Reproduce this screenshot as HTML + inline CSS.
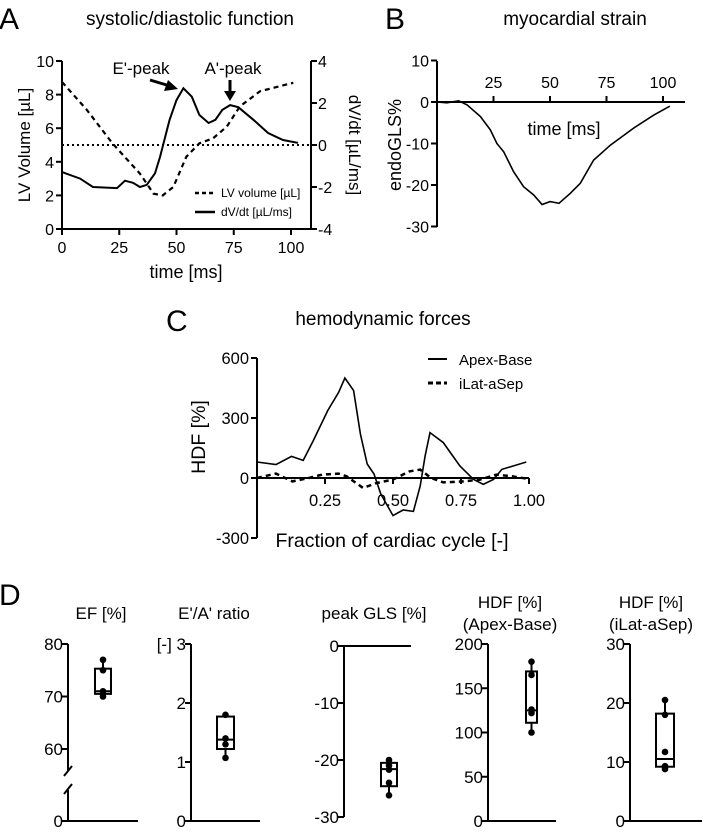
<!DOCTYPE html>
<html><head><meta charset="utf-8"><style>
html,body{margin:0;padding:0;background:#fff;}
svg{display:block;font-family:"Liberation Sans",Arial,sans-serif;}
</style></head><body>
<svg id="fig" width="702" height="838" viewBox="0 0 702 838" xmlns="http://www.w3.org/2000/svg">
<g>
<text x="-1" y="29" font-size="30">A</text>
<text x="190" y="25" font-size="19" text-anchor="middle">systolic/diastolic function</text>
<text x="186" y="278" font-size="18" text-anchor="middle">time [ms]</text>
<text transform="translate(30,145) rotate(-90)" font-size="17" text-anchor="middle">LV Volume  [µL]</text>
<text transform="translate(349,145) rotate(90)" font-size="17" text-anchor="middle">dV/dt [µL/ms]</text>
<text x="141" y="74" font-size="17" text-anchor="middle">E'-peak</text>
<text x="233" y="74" font-size="17" text-anchor="middle">A'-peak</text>
<g id="gA"></g>
</g>
<g>
<text x="385" y="29" font-size="30">B</text>
<text x="575" y="25" font-size="19" text-anchor="middle">myocardial strain</text>
<text x="564" y="135" font-size="18" text-anchor="middle">time [ms]</text>
<text transform="translate(401,145) rotate(-90)" font-size="18" text-anchor="middle">endoGLS%</text>
<g id="gB"></g>
</g>
<g>
<text x="166" y="331" font-size="30">C</text>
<text x="383" y="325" font-size="19" text-anchor="middle">hemodynamic forces</text>
<text x="392" y="547" font-size="19.5" text-anchor="middle">Fraction of cardiac cycle [-]</text>
<text transform="translate(205,437) rotate(-90)" font-size="19.5" text-anchor="middle">HDF [%]</text>
<g id="gC"></g>
</g>
<g>
<text x="-1" y="605" font-size="30">D</text>
<g id="gD"></g>
</g>
</svg>
<script>
// Panel A data
const aVolT=[0,10.8,22,34,40,44,48.6,54.3,60,66,72,77.7,86.5,101];
const aVolV=[8.75,7.1,5.1,3.3,2.1,2.0,2.5,4.3,5.1,5.4,6.1,7.3,8.2,8.7];
const aDvT=[0,7.9,13.5,24,27.5,31,34,37,40.6,42.8,47,50,53,56.7,60,64,67,70,73.4,77,83.6,90,96.5,103];
const aDvV=[-1.29,-1.6,-2.0,-2.05,-1.7,-1.8,-2.0,-1.9,-1.35,-0.57,1.2,2.14,2.7,2.3,1.43,1.05,1.2,1.67,1.9,1.8,1.2,0.57,0.24,0.1];
const aXTicks=[0,25,50,75,100];
const aLTicks=[0,2,4,6,8,10];
const aRTicks=[-4,-2,0,2,4];
// Panel B data
const bT=[0,4.4,9.6,13.3,19.2,23.6,26.5,29.5,33.9,38.3,42.8,46.5,50,54,59,63.4,69.3,76.7,87,96,103];
const bV=[0,-0.2,0.3,-0.7,-3.5,-6.7,-10,-12,-16.8,-20.4,-22.4,-24.7,-24,-24.4,-22,-19.6,-14,-10.4,-6.3,-3.1,-1.0];
const bXTicks=[25,50,75,100];
const bYTicks=[-30,-20,-10,0,10];
// Panel C data
const cApexX=[0,0.07,0.127,0.17,0.207,0.26,0.3,0.323,0.355,0.38,0.405,0.43,0.455,0.5,0.537,0.575,0.6,0.618,0.636,0.685,0.746,0.796,0.832,0.87,0.9,0.99];
const cApexV=[80,67,108,88,187,337,428,500,437,220,70,20,-80,-188,-160,-167,-40,110,227,177,60,-7,-32,-7,43,80];
const cLatX=[0,0.07,0.13,0.19,0.24,0.3,0.33,0.39,0.44,0.5,0.56,0.6,0.64,0.685,0.76,0.82,0.88,0.94,0.99];
const cLatV=[0,22,-17,0,17,22,8,-50,-25,-8,33,42,0,-22,-17,-8,17,8,-3];
const cXTicks=[0.25,0.5,0.75,1.0];
const cYTicks=[-300,0,300,600];
// Panel D data
const dTitles=[["EF [%]"],["E'/A' ratio"],["peak GLS [%]"],["HDF [%]","(Apex-Base)"],["HDF [%]","(iLat-aSep)"]];
const dPoints=[[77,75,71,70.5,70],[1.8,1.4,1.3,1.07],[-20,-21,-21.7,-24,-26.2],[180,165,126,122,100],[20.5,18,11.7,9.3,8.8]];
const dQ1=[70.5,1.22,-24.6,111,9.2];
const dMed=[71,1.38,-21.6,125,10.5];
const dQ3=[75.3,1.77,-20.5,169,18.2];
const dMin=[70,1.07,-26.2,100,8.8];
const dMax=[77,1.8,-20,180,20.5];
const dTicks=[[0,60,70,80],[0,1,2,3],[-30,-20,-10,0],[0,50,100,150,200],[0,10,20,30]];

const NS="http://www.w3.org/2000/svg";
function mk(parent,tag,attrs){const e=document.createElementNS(NS,tag);for(const k in attrs)e.setAttribute(k,attrs[k]);parent.appendChild(e);return e;}
function txt(parent,x,y,s,size,anchor){const t=mk(parent,'text',{x:x,y:y,'font-size':size,'text-anchor':anchor});t.textContent=s;return t;}
function path(xs,ys,fx,fy){return xs.map((v,i)=>(i?'L':'M')+fx(v).toFixed(1)+','+fy(ys[i]).toFixed(1)).join(' ');}

// ---- Panel A
(function(){
const g=document.getElementById('gA');
const x=t=>62+t*2.29, yl=v=>229-v*16.8, yr=v=>145-v*21;
let e=mk(g,'line',{x1:62,y1:61,x2:62,y2:229,stroke:'#000','stroke-width':2});

e=mk(g,'line',{x1:311,y1:61,x2:311,y2:229,stroke:'#000','stroke-width':2});

e=mk(g,'line',{x1:62,y1:229,x2:311,y2:229,stroke:'#000','stroke-width':2});

aXTicks.forEach(t=>{mk(g,'line',{x1:x(t),y1:229,x2:x(t),y2:235,stroke:'#000','stroke-width':2});
 e=txt(g,x(t),253,String(t),16,'middle');});
aLTicks.forEach(v=>{mk(g,'line',{x1:56,y1:yl(v),x2:62,y2:yl(v),stroke:'#000','stroke-width':2});
 e=txt(g,54,yl(v)+6,String(v),16,'end');});
aRTicks.forEach(v=>{mk(g,'line',{x1:311,y1:yr(v),x2:317,y2:yr(v),stroke:'#000','stroke-width':2});
 e=txt(g,318,yr(v)+6,String(v),16,'start');});
e=mk(g,'line',{x1:62,y1:yr(0),x2:311,y2:yr(0),stroke:'#000','stroke-width':2,'stroke-dasharray':'2,3'});

e=mk(g,'path',{d:path(aVolT,aVolV,x,yl),fill:'none',stroke:'#000','stroke-width':2.2,'stroke-dasharray':'5,4'});

e=mk(g,'path',{d:path(aDvT,aDvV,x,yr),fill:'none',stroke:'#000','stroke-width':2});

e=mk(g,'path',{d:'M150,80 L170,86',stroke:'#000','stroke-width':3,fill:'none'});

mk(g,'polygon',{points:'178,89 164,91 168,80',fill:'#000'});
e=mk(g,'line',{x1:230,y1:80,x2:230,y2:93,stroke:'#000','stroke-width':3});

mk(g,'polygon',{points:'224,91 236,91 230,101',fill:'#000'});
e=mk(g,'line',{x1:195,y1:193,x2:215,y2:193,stroke:'#000','stroke-width':2.5,'stroke-dasharray':'4,3'});

e=txt(g,221,197,'LV volume [µL]',12,'start');
e=mk(g,'line',{x1:195,y1:212,x2:215,y2:212,stroke:'#000','stroke-width':2.5});

e=txt(g,221,216,'dV/dt [µL/ms]',12,'start');
})();

// ---- Panel B
(function(){
const g=document.getElementById('gB');
const x=t=>437+t*2.26, y=v=>102-v*4.15;
let e=mk(g,'line',{x1:437,y1:61,x2:437,y2:227,stroke:'#000','stroke-width':2});

e=mk(g,'line',{x1:437,y1:102,x2:685,y2:102,stroke:'#000','stroke-width':2});

bXTicks.forEach(t=>{mk(g,'line',{x1:x(t),y1:96,x2:x(t),y2:102,stroke:'#000','stroke-width':2});
 e=txt(g,x(t),88,String(t),16,'middle');});
bYTicks.forEach(v=>{mk(g,'line',{x1:431,y1:y(v),x2:437,y2:y(v),stroke:'#000','stroke-width':2});
 e=txt(g,429,y(v)+6,String(v),16,'end');});
e=mk(g,'path',{d:path(bT,bV,x,y),fill:'none',stroke:'#000','stroke-width':1.6});

})();

// ---- Panel C
(function(){
const g=document.getElementById('gC');
const x=f=>257+f*272, y=v=>478-v*0.2;
let e=mk(g,'line',{x1:257,y1:y(600),x2:257,y2:y(-300),stroke:'#000','stroke-width':2});

e=mk(g,'line',{x1:257,y1:478,x2:x(1),y2:478,stroke:'#000','stroke-width':2});

cXTicks.forEach(f=>{mk(g,'line',{x1:x(f),y1:478,x2:x(f),y2:484,stroke:'#000','stroke-width':2});
 e=txt(g,x(f),506,f.toFixed(2),16.5,'middle');});
cYTicks.forEach(v=>{mk(g,'line',{x1:251,y1:y(v),x2:257,y2:y(v),stroke:'#000','stroke-width':2});
 e=txt(g,249,y(v)+6,String(v),16.5,'end');});
e=mk(g,'path',{d:path(cApexX,cApexV,x,y),fill:'none',stroke:'#000','stroke-width':1.6});

e=mk(g,'path',{d:path(cLatX,cLatV,x,y),fill:'none',stroke:'#000','stroke-width':2.5,'stroke-dasharray':'5,4'});

e=mk(g,'line',{x1:428,y1:359,x2:447,y2:359,stroke:'#000','stroke-width':2});

e=txt(g,459,365,'Apex-Base',15,'start');
e=mk(g,'line',{x1:428,y1:383,x2:447,y2:383,stroke:'#000','stroke-width':3,'stroke-dasharray':'5,3'});

e=txt(g,459,389,'iLat-aSep',15,'start');
})();

// ---- Panel D
(function(){
const g=document.getElementById('gD');
const axX=[68,191,344,488,630];
const boxL=[95,217,381,526,656];
const boxW=[16,17,16,11,18];
const baseEnd=[138,260,411,556,702];
const titleX=[101,214,374,510,651];
const maps=[[60,749,80,644],[0,821,3,644],[-30,817,0,646],[0,821,200,644],[0,821,30,644]];
for(let i=0;i<5;i++){
 const m=maps[i]; const y=v=>m[1]+(v-m[0])*(m[3]-m[1])/(m[2]-m[0]);
 const yy = i===0 ? (v=>v===0?821:y(v)) : y;
 const sg=mk(g,'g',{});
 
 dTitles[i].forEach((s,k)=>{const t=txt(sg,titleX[i],dTitles[i].length>1?(608+k*22):619,s,17,'middle');
  });
 const top=i===2?646:644, bot=i===2?817:821;
 let e;
 if(i===0){
  mk(sg,'line',{x1:axX[i],y1:top,x2:axX[i],y2:771,stroke:'#000','stroke-width':2});
  mk(sg,'line',{x1:axX[i],y1:790,x2:axX[i],y2:bot,stroke:'#000','stroke-width':2});
  mk(sg,'line',{x1:64,y1:776,x2:72,y2:766,stroke:'#000','stroke-width':2});
  mk(sg,'line',{x1:64,y1:794,x2:72,y2:784,stroke:'#000','stroke-width':2});
 } else {
  mk(sg,'line',{x1:axX[i],y1:top,x2:axX[i],y2:bot,stroke:'#000','stroke-width':2});
 }
 const by=i===2?646:821;
 e=mk(sg,'line',{x1:axX[i],y1:by,x2:baseEnd[i],y2:by,stroke:'#000','stroke-width':2});
 
 dTicks[i].forEach(v=>{const py=yy(v);
  mk(sg,'line',{x1:axX[i]-6,y1:py,x2:axX[i],y2:py,stroke:'#000','stroke-width':2});
  let lab=String(v); if(i===1&&v===3) lab='[-] 3';
  const t=txt(sg,axX[i]-5,py+6,lab,17,'end');});
 const bw=boxW[i];
 const mid=boxL[i]+bw/2;
 e=mk(sg,'line',{x1:mid,y1:yy(dMax[i]),x2:mid,y2:yy(dMin[i]),stroke:'#000','stroke-width':2});
 
 e=mk(sg,'rect',{x:boxL[i],y:yy(dQ3[i]),width:bw,height:yy(dQ1[i])-yy(dQ3[i]),fill:'#fff',stroke:'#000','stroke-width':2});
 
 e=mk(sg,'line',{x1:boxL[i],y1:yy(dMed[i]),x2:boxL[i]+bw,y2:yy(dMed[i]),stroke:'#000','stroke-width':2});
 
 dPoints[i].forEach(v=>{const c=mk(sg,'circle',{cx:mid,cy:yy(v),r:3.3,fill:'#000'});
  });
}
})();
</script>
</body></html>
